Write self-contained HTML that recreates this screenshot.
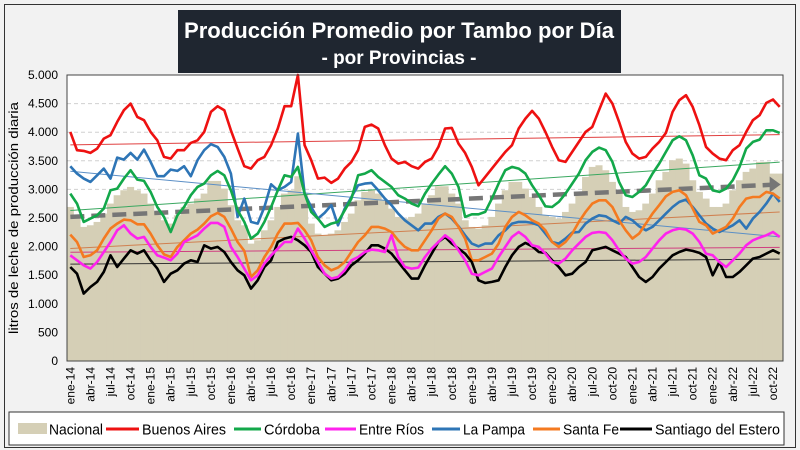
<!DOCTYPE html>
<html><head><meta charset="utf-8"><style>
html,body{margin:0;padding:0;background:#f2f2f2;}
svg{display:block;font-family:"Liberation Sans",sans-serif;}
</style></head><body>
<svg id="chart" width="800" height="450" viewBox="0 0 800 450">
<rect x="0" y="0" width="800" height="450" fill="#f2f2f2"/>
<rect x="4.5" y="4.5" width="791" height="443" fill="none" stroke="#333" stroke-width="1"/>
<rect x="67" y="75" width="716" height="286" fill="#ffffff"/>
<g id="grid"></g>
<g id="area"></g>
<g id="trends"></g>
<g id="lines"></g>
<g id="axes"></g>
<rect x="67" y="75" width="716" height="286" fill="none" stroke="#444" stroke-width="1"/>
<g>
<rect x="178" y="10" width="443" height="63" fill="#1f2630"/>
<text x="399" y="38" text-anchor="middle" fill="#fff" font-weight="bold" font-size="22" textLength="430" lengthAdjust="spacingAndGlyphs">Producción Promedio por Tambo por Día</text>
<text x="399" y="64" text-anchor="middle" fill="#fff" font-weight="bold" font-size="19" textLength="155" lengthAdjust="spacingAndGlyphs">- por Provincias -</text>
</g>
<text transform="translate(18,218) rotate(-90)" text-anchor="middle" font-size="13" fill="#000" textLength="232" lengthAdjust="spacingAndGlyphs">litros de leche de producción diaria</text>
<g id="legend">
<rect x="9" y="412" width="775" height="33" fill="#fff" stroke="#333" stroke-width="1"/>
</g>
</svg>
<script>
const months=['ene','feb','mar','abr','may','jun','jul','ago','sep','oct','nov','dic'];
const categories=[];for(let y=14;y<=22;y++)for(let m=0;m<12;m++){if(y===22&&m===11)break;categories.push(months[m]+'-'+y);}
const yTicks=[0,500,1000,1500,2000,2500,3000,3500,4000,4500,5000];
const yTickLabels=['0','500','1.000','1.500','2.000','2.500','3.000','3.500','4.000','4.500','5.000'];
const nacional=[2693,2519,2344,2373,2431,2577,2752,2898,2985,3043,2985,2927,2752,2606,2460,2402,2548,2693,2752,2839,2927,3148,3148,3014,2723,2460,2373,2052,2110,2285,2460,2693,2927,2985,3230,2927,2402,2227,2198,2227,2285,2431,2577,2810,2956,2985,2927,2810,2664,2519,2489,2519,2577,2752,2898,3055,3055,2927,2752,2460,2344,2314,2373,2519,2752,2985,3131,3131,3014,2868,2693,2548,2519,2489,2606,2752,2956,3218,3393,3422,3335,3131,2927,2693,2606,2635,2752,2927,3160,3306,3510,3539,3451,3160,2956,2839,2693,2693,2752,2985,3160,3306,3364,3481,3481,3276,3276];
const buenosAires=[4005,3685,3673,3638,3714,3888,3947,4180,4384,4500,4268,4209,4005,3859,3568,3539,3685,3685,3813,3859,4005,4355,4454,4384,4034,3714,3405,3364,3510,3568,3772,4064,4454,4454,5000,3772,3510,3189,3206,3113,3189,3364,3481,3685,4093,4133,4064,3772,3539,3451,3481,3405,3364,3481,3539,3743,4064,4075,3801,3638,3393,3072,3218,3364,3510,3655,3772,4064,4238,4372,4238,4005,3743,3510,3481,3655,3830,4005,4093,4384,4675,4500,4180,3830,3626,3539,3568,3714,3830,3988,4355,4559,4646,4442,4122,3743,3626,3539,3510,3685,3772,4005,4209,4297,4512,4571,4442];
const cordoba=[2927,2752,2431,2489,2548,2664,2985,3014,3189,3335,3172,3148,2956,2693,2519,2256,2548,2693,2898,3043,3102,3247,3323,3247,2985,2635,2431,2140,2227,2431,2693,2985,3247,3218,3393,2927,2606,2489,2344,2402,2431,2635,2839,3247,3276,3335,3218,3131,3043,2898,2839,2752,2705,2927,3102,3259,3405,3276,3043,2519,2565,2565,2606,2839,3102,3335,3393,3364,3276,3072,2898,2705,2693,2781,2927,3102,3276,3510,3655,3731,3685,3481,3131,2898,2868,2956,3072,3276,3451,3655,3859,3929,3859,3597,3247,3189,2985,2956,3014,3160,3393,3714,3830,3871,4034,4034,3988];
const entreRios=[1848,1761,1673,1615,1731,1906,2081,2285,2373,2227,2140,2169,1994,1848,1807,1761,1877,2081,2140,2198,2314,2414,2414,2344,1994,1819,1615,1411,1498,1702,1848,1965,2081,2081,2314,2140,1936,1731,1527,1440,1469,1586,1761,1819,1906,1947,1936,1906,2198,1819,1644,1615,1632,1819,1965,2081,2198,2110,1936,1761,1527,1498,1557,1615,1819,1994,2169,2256,2169,2023,1994,1877,1731,1702,1790,1936,2052,2169,2239,2256,2239,2110,1936,1790,1702,1731,1819,1965,2110,2227,2285,2314,2297,2227,2081,1877,1848,1731,1644,1761,1877,2023,2110,2157,2198,2256,2169];
const laPampa=[3405,3276,3189,3131,3247,3364,3189,3556,3521,3638,3521,3696,3481,3230,3230,3346,3323,3405,3230,3510,3685,3790,3743,3568,3276,2519,2839,2431,2402,2693,3090,2985,3043,3131,3976,2927,2693,2489,2589,2723,2373,2664,2868,3072,3102,3113,2985,2839,2723,2577,2460,2373,2285,2402,2402,2519,2577,2489,2355,2198,2052,2006,2052,2052,2198,2285,2402,2431,2431,2414,2373,2227,2081,2052,2140,2245,2256,2402,2489,2548,2530,2460,2402,2519,2460,2355,2285,2344,2460,2577,2693,2781,2822,2693,2548,2402,2314,2256,2314,2373,2460,2314,2489,2606,2752,2927,2781];
const santaFe=[2210,2081,1819,1848,1936,2140,2314,2402,2472,2460,2390,2390,2227,2023,1866,1819,1994,2110,2227,2297,2402,2530,2589,2519,2314,2081,1924,1469,1586,1819,1994,2227,2402,2402,2414,2285,2110,1819,1673,1586,1632,1731,1906,2081,2198,2344,2344,2314,2256,2110,1994,1936,1936,2110,2285,2489,2577,2519,2344,2140,1761,1761,1819,1877,2052,2344,2519,2606,2548,2460,2402,2285,2081,1994,2081,2227,2431,2606,2752,2810,2810,2693,2460,2285,2140,2227,2402,2577,2723,2880,2956,2985,2898,2664,2431,2373,2227,2285,2344,2489,2693,2839,2868,2868,2956,2927,2839];
const santiago=[1644,1527,1178,1294,1382,1557,1848,1644,1790,1936,1877,1936,1761,1615,1382,1527,1586,1702,1761,1731,2023,1965,1994,1906,1731,1586,1498,1265,1411,1644,1761,2081,2140,2169,2110,2023,1906,1644,1527,1411,1440,1527,1673,1761,1877,2023,2023,1965,1877,1731,1586,1440,1440,1673,1877,2081,2169,2052,1965,1877,1731,1411,1364,1382,1411,1644,1848,1994,2064,2006,1906,1889,1761,1644,1498,1527,1644,1731,1936,1965,1994,1936,1877,1819,1644,1469,1382,1469,1615,1731,1848,1906,1947,1924,1889,1819,1498,1731,1469,1469,1557,1673,1790,1819,1877,1936,1877];
const seriesNames=['Buenos Aires','Córdoba','Entre Ríos','La Pampa','Santa Fe','Santiago del Estero'];
const seriesData=[buenosAires,cordoba,entreRios,laPampa,santaFe,santiago];
const seriesColors=['#ee1111','#13a84a','#ff22ee','#2e75b6','#f47a20','#000000'];
const trendColors=['#e04040','#3aa860','#d04080','#5b8fc6','#d08050','#333333'];

const NS='http://www.w3.org/2000/svg';
const X0=67,X1=783,Y0=361,Y1=75,VMAX=5000;
const n=categories.length, step=(X1-X0)/n;
function xS(i){return X0+step*(i+0.5);}
function yS(v){return Y0-(v/VMAX)*(Y0-Y1);}
function mk(tag,attrs,parent){const e=document.createElementNS(NS,tag);for(const k in attrs)e.setAttribute(k,attrs[k]);parent.appendChild(e);return e;}
const grid=document.getElementById('grid'),area=document.getElementById('area'),trends=document.getElementById('trends'),lines=document.getElementById('lines'),axes=document.getElementById('axes'),legend=document.getElementById('legend');

yTicks.forEach((t,k)=>{
  if(t>0&&t<VMAX){const g=mk('line',{x1:X0,x2:X1,y1:yS(t),y2:yS(t),stroke:'#d0d0d0','stroke-dasharray':'4 3','stroke-width':1},grid);
  
  }
  const tl=mk('text',{x:58,y:yS(t)+4,'text-anchor':'end','font-size':12,fill:'#000'},axes);
  tl.textContent=yTickLabels[k];
  
  
});

nacional.forEach((v,i)=>{
  const r=mk('rect',{x:X0+step*i-0.2,y:yS(v),width:step+0.4,height:Y0-yS(v),fill:'#d5cfb6'},area);
  
  
});

function regress(arr){let sx=0,sy=0,sxx=0,sxy=0;const m=arr.length;arr.forEach((v,i)=>{sx+=i;sy+=v;sxx+=i*i;sxy+=i*v;});const b=(m*sxy-sx*sy)/(m*sxx-sx*sx);return{a:(sy-b*sx)/m,b:b};}

seriesData.forEach((arr,s)=>{
  const r=regress(arr);
  const t=mk('line',{x1:xS(0),y1:yS(r.a),x2:xS(n-1),y2:yS(r.a+r.b*(n-1)),stroke:trendColors[s],'stroke-width':1},trends);
  
  
});
(function(){
  const r=regress(nacional);
  const xe=xS(n-1)-8,ye=yS(r.a+r.b*(n-1-1.2));
  const t=mk('line',{x1:xS(0),y1:yS(r.a),x2:xe,y2:ye,stroke:'#767676','stroke-width':4.5,'stroke-dasharray':'14 7'},trends);
  
  
  const xa=xS(n-1)+1,ya=yS(r.a+r.b*(n-1));
  const ah=mk('polygon',{points:`${xa},${ya} ${xa-11},${ya-8} ${xa-11},${ya+8}`,fill:'#767676'},trends);
  
  
})();

[3,4,5,2,1,0].forEach(s=>{
  const arr=seriesData[s];
  const p=mk('polyline',{points:arr.map((v,i)=>xS(i).toFixed(1)+','+yS(v).toFixed(1)).join(' '),fill:'none',stroke:seriesColors[s],'stroke-width':2.6,'stroke-linejoin':'round'},lines);
  
  
});

categories.forEach((c,i)=>{
  if(i%3!==0)return;
  const x=xS(i);
  const tl=mk('text',{transform:`translate(${x+4},367) rotate(-90)`,'text-anchor':'end','font-size':12,fill:'#000'},axes);
  tl.textContent=c;
  
  
});

const legendItems=[['Nacional','#d5cfb6',18,49,54,'box'],['Buenos Aires','#ee1111',106,142,84],['Córdoba','#13a84a',234,264,56],['Entre Ríos','#ff22ee',325,359,65],['La Pampa','#2e75b6',432,463,62],['Santa Fe','#f47a20',533,563,56],['Santiago del Estero','#000000',620,655,125]];
legendItems.forEach(it=>{
  const g=mk('g',{},legend);
  
  
  if(it[5]==='box')mk('rect',{x:it[2],y:423,width:29,height:11,fill:it[1]},g);
  else mk('line',{x1:it[2],x2:it[3]-3,y1:429,y2:429,stroke:it[1],'stroke-width':3},g);
  const t=mk('text',{x:it[3],y:434.5,'font-size':15,fill:'#000',textLength:it[4],lengthAdjust:'spacingAndGlyphs'},g);
  t.textContent=it[0];
});
</script>
</body></html>
